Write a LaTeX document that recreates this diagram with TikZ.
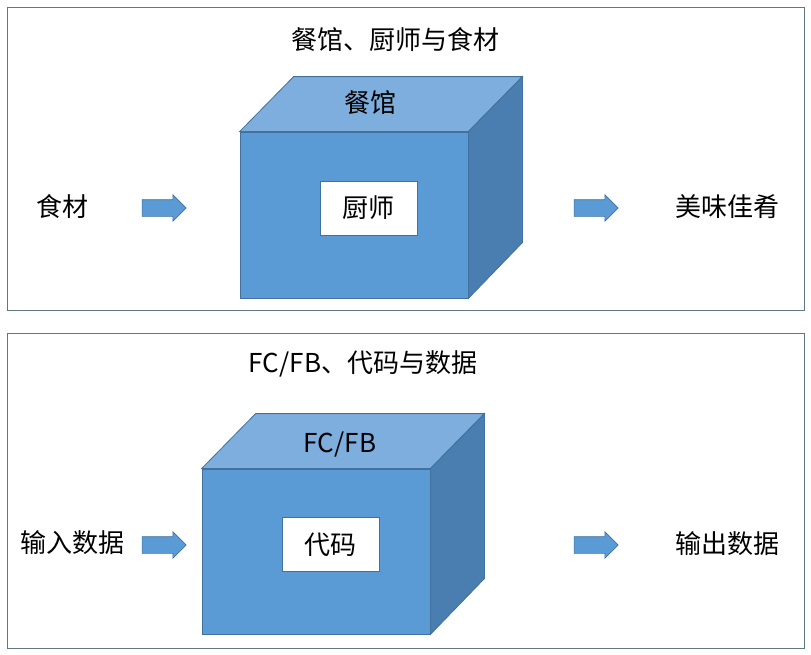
\documentclass[tikz,border=0pt]{standalone}
\usepackage{fontspec}
\setmainfont{Noto Sans CJK SC}
\usetikzlibrary{positioning, shapes.arrows, calc}
\definecolor{cfront}{HTML}{5B9BD5}
\definecolor{ctop}{HTML}{7DAEDD}
\definecolor{cside}{HTML}{4A7EB1}
\definecolor{cedge}{HTML}{41719C}
\definecolor{cframe}{HTML}{61797E}
\tikzset{
  every picture/.style={x=1pt, y=-1pt, font=\fontsize{26}{30}\selectfont},
  panel/.style={draw=cframe, line width=1pt, inner sep=0pt},
  front/.style={draw=cedge, fill=cfront, line width=0.8pt, inner sep=0pt},
  topface/.style={draw=cedge, fill=ctop, line width=0.8pt},
  sideface/.style={draw=cedge, fill=cside, line width=0.8pt},
  inner/.style={draw=cedge, fill=white, line width=0.6pt, minimum width=97pt, minimum height=54pt, inner sep=0pt},
  blockarrow/.style={single arrow, draw=cedge, fill=cfront, line width=0.6pt,
    minimum height=44pt, inner xsep=0pt, inner ysep=8pt, single arrow head extend=5pt},
  label/.style={inner sep=1pt},
}

\begin{document}
\begin{tikzpicture}
  \useasboundingbox (0,0) rectangle (811,654);
  % restaurant, chef and ingredients
  \node[panel, minimum width=797pt, minimum height=303pt] (toppanel) at (405.5,158.5) {};
  \node[label] (title1) at (395,40) {餐馆、厨师与食材};
  \node[front, minimum width=228pt, minimum height=166pt] (shop) at (354,215) {};
  \draw[topface] (shop.north west) -- ++(54,-55) -- ($(shop.north east)+(54,-55)$) -- (shop.north east) -- cycle;
  \draw[sideface] (shop.north east) -- ++(54,-55) -- ++(0,166) -- (shop.south east) -- cycle;
  \node[label] (shopname) at (370,103) {餐馆};
  \node[inner] (chef) at (368.5,208) {厨师};
  \node[label] (food) at (62,207) {食材};
  \node[blockarrow] (in1) at (160,208) {};
  \node[blockarrow] (out1) at (592,208) {};
  \node[label] (dish) at (727,207) {美味佳肴};

  % FC/FB, code and data
  \node[panel, minimum width=797pt, minimum height=315pt] (botpanel) at (405.5,490.5) {};
  \node[label] (title2) at (363,364) {FC/FB、代码与数据};
  \node[front, minimum width=228pt, minimum height=165pt] (block) at (316,551.5) {};
  \draw[topface] (block.north west) -- ++(54,-55) -- ($(block.north east)+(54,-55)$) -- (block.north east) -- cycle;
  \draw[sideface] (block.north east) -- ++(54,-55) -- ++(0,165) -- (block.south east) -- cycle;
  \node[label] (blockname) at (340,444) {FC/FB};
  \node[inner] (code) at (330.5,544.5) {代码};
  \node[label] (indata) at (72,543) {输入数据};
  \node[blockarrow] (in2) at (160,545) {};
  \node[blockarrow] (out2) at (592,545) {};
  \node[label] (outdata) at (727,544) {输出数据};
\end{tikzpicture}
\end{document}
